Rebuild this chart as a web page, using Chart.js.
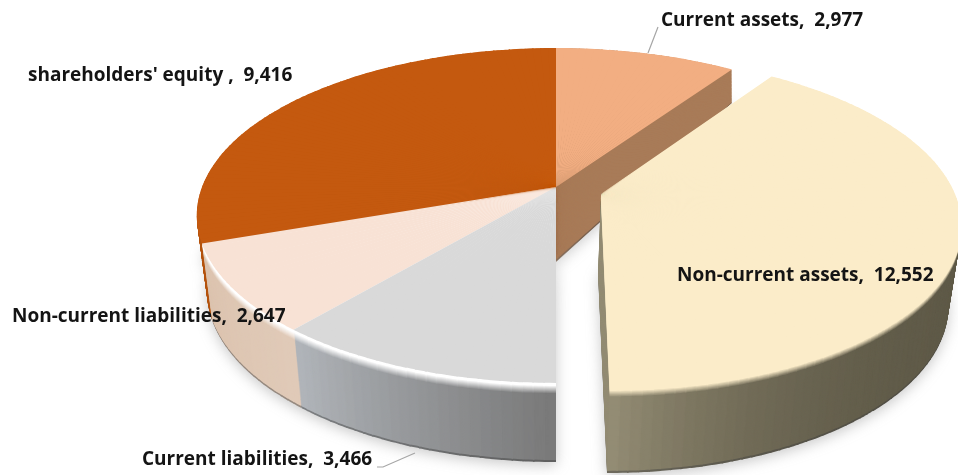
<!DOCTYPE html>
<html>
<head>
<meta charset="utf-8">
<title>Balance sheet pie</title>
<script src="https://cdn.jsdelivr.net/npm/chart.js"></script>
<style>
  html,body{margin:0;padding:0;background:#fff;}
  canvas{display:block;filter:blur(.5px);}
</style>
</head>
<body>
<canvas id="myChart" width="958" height="475"></canvas>

<script>
  const categories = ['Current assets', 'Non-current assets', 'Current liabilities', 'Non-current liabilities', "shareholders' equity "];
  const amounts = [2977, 12552, 3466, 2647, 9416];

  const topColors = ['#f2ae82', '#fbecc9', '#d9d9d9', '#f8e2d5', '#c4590f'];
  // side wall colour at the start and end of each slice
  const wallFrom = ['#a87b58', '#5e5947', '#7a7a7a', '#e0cab8', '#b4540f'];
  const wallTo = ['#a87b58', '#938c74', '#b0b4b9', '#dcc3ae', '#d0640f'];
  const wallPow = [1, 7, 1, 1, 1];
  const bevel = [null, '#fbecc9', '#ffffff', '#ffffff', null];

  const labelX = [661, 677, 142, 12, 28];
  const labelY = [21, 276, 460, 317, 76];

  // perspective of the disc: top face and bottom face
  const apexX = 556, apexTop = 187, apexBottom = 262;
  const spreadX = 354, spreadXLow = 344, tilt = -0.17;
  const spreadTop = 162.6, spreadBackLow = 220, spreadFrontLow = 166;
  const layers = 79;
  const exploded = 1, explodeX = 45, explodeY = 7, explodeShear = 0.045;

  function hexMix(a, b, t) {
    const pa = [1, 3, 5].map(i => parseInt(a.substr(i, 2), 16));
    const pb = [1, 3, 5].map(i => parseInt(b.substr(i, 2), 16));
    return pa.map((v, i) => Math.round(v + (pb[i] - v) * t));
  }
  function toHex(rgb) {
    return '#' + rgb.map(v => v.toString(16).padStart(2, '0')).join('');
  }

  function project(a, wide, up, low) {
    const c = Math.cos(a), s = Math.sin(a), d = 1 + tilt * s;
    return [(s < 0 ? spreadX : wide) * c / d, (s < 0 ? up : low) * s / d];
  }

  // one thin piece of a slice, drawn by the arc element itself
  function drawPiece(ctx, arc, a1, a2, extra, color, x, y, wide, up, low, shear) {
    const R = arc.outerRadius;
    const p1 = project(a1, wide, up, low), p2 = project(a2, wide, up, low);
    p1[0] += shear * p1[1];
    p2[0] += shear * p2[1];
    const c1 = R * Math.cos(a1), s1 = R * Math.sin(a1), c2 = R * Math.cos(a2), s2 = R * Math.sin(a2);
    const det = c1 * s2 - c2 * s1;
    const piece = Object.create(arc);
    piece.x = 0;
    piece.y = 0;
    piece.startAngle = a1;
    piece.endAngle = a2 + extra;
    piece.circumference = a2 + extra - a1;
    piece.options = Object.assign({}, arc.options, {backgroundColor: color, borderWidth: 0, offset: 0, spacing: 0});
    ctx.save();
    ctx.transform((p1[0] * s2 - p2[0] * s1) / det, (p1[1] * s2 - p2[1] * s1) / det,
                  (p2[0] * c1 - p1[0] * c2) / det, (p2[1] * c1 - p1[1] * c2) / det, x, y);
    piece.draw(ctx);
    ctx.restore();
  }

  function drawLayer(ctx, arc, i, level, colorFn) {
    const step = 1.5 * Math.PI / 180;
    const n = Math.ceil((arc.endAngle - arc.startAngle) / step);
    const d = (arc.endAngle - arc.startAngle) / n;
    const t = level / layers;
    let x = apexX, y = apexTop + (apexBottom - apexTop) * t, shear = 0;
    if (i === exploded) {
      x += explodeX - 3 * t;
      y += explodeY + 4 * t;
      shear = explodeShear;
    }
    const wide = spreadX + (spreadXLow - spreadX) * t;
    const up = spreadTop + (spreadBackLow - spreadTop) * t;
    const low = spreadTop + (spreadFrontLow - spreadTop) * t;
    for (let k = 0; k < n; k++) {
      const a1 = arc.startAngle + d * k;
      drawPiece(ctx, arc, a1, a1 + d, k < n - 1 ? d * 0.15 : 0, colorFn(k / (n - 1 || 1)), x, y, wide, up, low, shear);
    }
  }

  function wallColor(i, u, level) {
    const hex = toHex(hexMix(wallFrom[i], wallTo[i], Math.pow(u, wallPow[i])));
    if (level >= layers - 1) return toHex(hexMix(hex, '#404040', 0.45));
    if (!bevel[i]) return hex;
    const hold = i === exploded ? 1 : 3, fade = i === exploded ? 7 : 11;
    if (level <= hold) return bevel[i];
    if (level < fade) return toHex(hexMix(bevel[i], hex, (level - hold) / (fade - hold)));
    return hex;
  }

  const piePlugin = {
    id: 'pie3d',
    beforeDatasetsDraw(chart) {
      const ctx = chart.ctx;
      const arcs = chart.getDatasetMeta(0).data;

      // soft shadow under the bottom face
      const off = document.createElement('canvas');
      off.width = chart.width;
      off.height = chart.height;
      const octx = off.getContext('2d');
      arcs.forEach((arc, i) => drawLayer(octx, arc, i, layers, () => '#777777'));
      ctx.save();
      ctx.filter = 'blur(7px)';
      ctx.globalAlpha = 0.4;
      ctx.drawImage(off, 0, 3);
      ctx.restore();

      const stack = list => {
        for (let level = layers; level > 0; level--) {
          list.forEach(i => drawLayer(ctx, arcs[i], i, level, u => wallColor(i, u, level)));
        }
        list.forEach(i => drawLayer(ctx, arcs[i], i, 0, () => topColors[i]));
      };
      stack([4, 0, 3, 2]);
      stack([exploded]);
      return false;
    },
    afterDraw(chart) {
      const ctx = chart.ctx;
      ctx.save();
      ctx.strokeStyle = '#a6a6a6';
      ctx.lineWidth = 1.2;
      ctx.beginPath();
      ctx.moveTo(658, 27); ctx.lineTo(648, 53);
      ctx.moveTo(377, 467); ctx.lineTo(383, 467); ctx.lineTo(415, 453);
      ctx.stroke();
      ctx.fillStyle = '#141414';
      ctx.font = 'bold 19px "Open Sans"';
      ctx.textBaseline = 'middle';
      categories.forEach((c, i) => {
        ctx.fillText(c + ',  ' + amounts[i].toLocaleString('en-US'), labelX[i], labelY[i]);
      });
      ctx.restore();
    }
  };

  new Chart(document.getElementById('myChart'), {
    type: 'pie',
    data: {
      labels: categories,
      datasets: [{
        data: amounts,
        backgroundColor: topColors,
        borderWidth: 0
      }]
    },
    options: {
      responsive: false,
      animation: false,
      radius: 100,
      events: [],
      plugins: {legend: {display: false}, tooltip: {enabled: false}}
    },
    plugins: [piePlugin]
  });
</script>
</body>
</html>
